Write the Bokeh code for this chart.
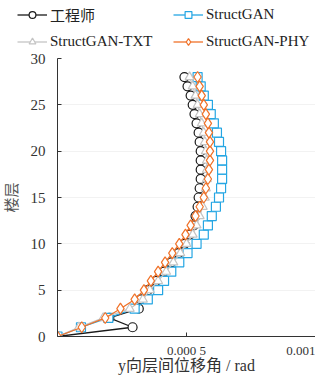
from bokeh.plotting import figure
from bokeh.layouts import column
from bokeh.models import Range1d, FixedTicker, Legend, LegendItem
from bokeh.embed import file_html
from bokeh.resources import INLINE

floors = list(range(0, 29))

engineer = [0, 0.000291, 0.000201, 0.000315, 0.000323, 0.000350, 0.000382, 0.000413, 0.000441,
            0.000469, 0.000492, 0.000512, 0.000528, 0.000535, 0.000543, 0.000547, 0.000551,
            0.000555, 0.000555, 0.000555, 0.000555, 0.000551, 0.000547, 0.000539, 0.000531,
            0.000524, 0.000516, 0.000504, 0.000492]
structgan = [0, 0.000091, 0.000197, 0.000299, 0.000350, 0.000390, 0.000413, 0.000441, 0.000472,
             0.000504, 0.000539, 0.000567, 0.000583, 0.000598, 0.000614, 0.000626, 0.000634,
             0.000638, 0.000638, 0.000638, 0.000634, 0.000626, 0.000618, 0.000606, 0.000594,
             0.000583, 0.000567, 0.000555, 0.000543]
structgan_txt = [0, 0.000083, 0.000177, 0.000280, 0.000331, 0.000358, 0.000390, 0.000421, 0.000449,
                 0.000476, 0.000500, 0.000524, 0.000539, 0.000551, 0.000563, 0.000571, 0.000575,
                 0.000579, 0.000579, 0.000579, 0.000575, 0.000571, 0.000567, 0.000559, 0.000551,
                 0.000543, 0.000535, 0.000524, 0.000512]
structgan_phy = [0, 0.000094, 0.000185, 0.000244, 0.000299, 0.000335, 0.000362, 0.000390, 0.000417,
                 0.000445, 0.000472, 0.000496, 0.000516, 0.000535, 0.000551, 0.000567, 0.000575,
                 0.000583, 0.000587, 0.000591, 0.000591, 0.000591, 0.000587, 0.000583, 0.000575,
                 0.000567, 0.000559, 0.000551, 0.000543]

series_names = ["工程师", "StructGAN", "StructGAN-TXT", "StructGAN-PHY"]
x_ticks = [0.0005, 0.001]
x_tick_labels = ["0.000 5", "0.001"]
y_ticks = [0, 5, 10, 15, 20, 25, 30]

SERIF = "'Liberation Serif', 'Noto Sans CJK SC'"

styles = [
    dict(color="#1a1a1a", marker="circle", size=9),
    dict(color="#25a6e3", marker="square", size=9),
    dict(color="#c4c4c4", marker="triangle", size=9),
    dict(color="#f07229", marker="diamond", size=11),
]
data = [engineer, structgan, structgan_txt, structgan_phy]


def draw_series(fig):
    items = []
    for name, vals, st in zip(series_names, data, styles):
        lr = fig.line(vals, floors, line_color=st["color"], line_width=1.3)
        sr = fig.scatter(vals, floors, marker=st["marker"], size=st["size"], line_color=st["color"],
                         fill_color="white", line_width=1.2)
        items.append(LegendItem(label=name, renderers=[lr, sr]))
    return items


# main chart
p = figure(width=315, height=327, output_backend="svg", toolbar_location=None,
           x_range=Range1d(0, 0.001), y_range=Range1d(0, 30),
           min_border_left=53, min_border_right=0, min_border_top=8, min_border_bottom=41)
p.frame_align = False
p.outline_line_color = None
p.background_fill_color = "white"
p.xgrid.grid_line_color = None
p.ygrid.grid_line_color = "#f2f2f2"
draw_series(p)

for ax in (p.xaxis[0], p.yaxis[0]):
    ax.axis_line_color = "#333333"
    ax.major_tick_line_color = "#333333"
    ax.major_tick_in = 4
    ax.major_tick_out = 0
    ax.minor_tick_line_color = None
    ax.major_label_text_font = SERIF
    ax.major_label_text_color = "#333333"
    ax.axis_label_text_font = SERIF
    ax.axis_label_text_font_style = "normal"
    ax.axis_label_text_color = "#333333"

p.xaxis.ticker = FixedTicker(ticks=x_ticks)
p.xaxis.major_label_overrides = {t: l for t, l in zip(x_ticks, x_tick_labels)}
p.xaxis.major_label_text_font_size = "13px"
p.xaxis.major_label_standoff = 6
p.xaxis.axis_label = "y向层间位移角 / rad"
p.xaxis.axis_label_text_font_size = "16px"
p.xaxis.axis_label_standoff = -4

p.yaxis.ticker = FixedTicker(ticks=y_ticks)
p.yaxis.major_label_text_font_size = "15px"
p.yaxis.major_label_standoff = 12
p.yaxis.axis_label = "楼层"
p.yaxis.axis_label_text_font_size = "15px"
p.yaxis.axis_label_text_color = "#555555"
p.yaxis.axis_label_standoff = 8

# legend strip above the chart (its own series renderers sit outside its visible range)
lg = figure(width=315, height=50, output_backend="svg", toolbar_location=None,
            x_range=Range1d(1, 2), y_range=Range1d(1, 2),
            x_axis_type=None, y_axis_type=None,
            min_border_left=0, min_border_right=0, min_border_top=0, min_border_bottom=0)
lg.frame_align = False
lg.outline_line_color = None
lg.xgrid.grid_line_color = None
lg.ygrid.grid_line_color = None
li = draw_series(lg)
legend_items = [li[0], li[2], li[1], li[3]]  # column-major fill -> rows: 工程师|StructGAN, TXT|PHY

legend = Legend(items=legend_items, ncols=2, location=(17, 0), padding=0, margin=0,
                spacing=8, glyph_width=30, glyph_height=17, label_height=17, label_standoff=3,
                label_width=115, label_text_font=SERIF, label_text_font_size="15px",
                label_text_color="#222222", background_fill_alpha=0, border_line_alpha=0)
lg.add_layout(legend, "center")

layout = column(lg, p, spacing=0)
open("out.html", "w").write(file_html(layout, INLINE))
